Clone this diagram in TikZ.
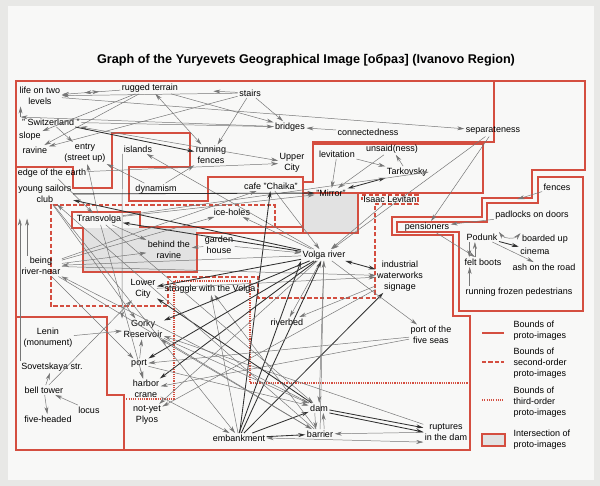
\documentclass[tikz,border=0pt]{standalone}
\usepackage{fontspec}
\setmainfont{Liberation Sans}
\usepackage{xcolor}
\usepackage{tikz}
\usetikzlibrary{arrows.meta}
\definecolor{bound}{RGB}{212,78,64}
\definecolor{linkgray}{RGB}{118,118,118}
\definecolor{heavygray}{RGB}{48,48,48}
\definecolor{overlap}{RGB}{226,226,226}
\definecolor{paper}{RGB}{248,248,247}
\definecolor{rim}{RGB}{232,232,230}

\begin{document}
\begin{tikzpicture}[x=0.025cm,y=-0.025cm,
                    >={Stealth[length=5pt,width=2.8pt]},
                    lbl/.style={font=\fontsize{6.4}{7.8}\selectfont,align=center,inner sep=1pt},
                    legtext/.style={lbl,align=left,anchor=west},
                    link/.style={->,draw=linkgray,line width=0.35pt},
                    heavy/.style={->,draw=heavygray,line width=0.6pt},
                    bnd/.style={draw=bound,line width=1.1pt},
                    bnd2/.style={bnd,dash pattern=on 3pt off 1.6pt},
                    bnd3/.style={bnd,line width=1pt,dash pattern=on 0.8pt off 0.8pt}]
                    \useasboundingbox (0,0) rectangle (600,486);
                    \fill[rim] (0,0) rectangle (600,486);
                    \fill[paper] (8,6) rectangle (594,480);

                    \fill[overlap] (83,228) rectangle (197,272);
                    \fill[overlap] (303,193) rectangle (358,233);

                    \draw[bnd] (16,81) -- (585,81) -- (585,170) -- (532,170) -- (532,198) -- (482,198) -- (482,217) -- (392,217) -- (392,235) -- (453,235) -- (453,316) -- (470,316) -- (470,450) -- (16,450) -- cycle;
                    \draw[bnd] (538,177) -- (583,177) -- (583,311) -- (459,311) -- (459,232) -- (397,232) -- (397,222) -- (487,222) -- (487,203) -- (538,203) -- cycle;
                    \draw[bnd] (494,81) -- (494,142) -- (313,142) -- (313,182) -- (303,182) -- (303,177) -- (208,177) -- (208,201) -- (129,201) -- (129,167) -- (190,167) -- (190,133) -- (112,133) -- (112,188) -- (73,188) -- (73,167) -- (16,167);
                    \draw[bnd] (313,144) -- (483,144) -- (483,193) -- (303,193);
                    \draw[bnd] (303,177) -- (303,233);
                    \draw[bnd] (303,227) -- (140,227) -- (140,212) -- (72,212) -- (72,228) -- (83,228) -- (83,272) -- (197,272) -- (197,233) -- (358,233) -- (358,193);
                    \draw[bnd] (16,317) -- (107,317) -- (107,395) -- (124,395) -- (124,450);
                    \draw[bnd2] (275,227) -- (275,205) -- (51,205) -- (51,306) -- (168,306) -- (168,277) -- (258,277) -- (258,298) -- (375,298) -- (375,204) -- (418,204) -- (418,195) -- (362,195) -- (362,200);
                    \draw[bnd3] (124,399) -- (174,399) -- (174,281) -- (250,281) -- (250,383) -- (470,383);

                    \node[font=\bfseries\fontsize{9}{11}\selectfont] (title) at (306,60) {Graph of the Yuryevets Geographical Image [образ] (Ivanovo Region)};

                    \node[lbl] (lifeon) at (40,96) {life on two\\levels};
                    \node[lbl] (rugged) at (150,88) {rugged terrain};
                    \node[lbl] (stairs) at (250,93) {stairs};
                    \node[lbl] (switz) at (51,122) {" Switzerland "};
                    \node[lbl] (slope) at (30,136) {slope};
                    \node[lbl] (ravine) at (35,150) {ravine};
                    \node[lbl] (entry) at (85,153) {entry\\(street up)};
                    \node[lbl] (islands) at (138,149) {islands};
                    \node[lbl] (runfences) at (211,155) {running\\fences};
                    \node[lbl] (bridges) at (290,127) {bridges};
                    \node[lbl] (connect) at (368,132) {connectedness};
                    \node[lbl] (separate) at (493,131) {separateness};
                    \node[lbl] (upper) at (292,163) {Upper\\City};
                    \node[lbl] (levit) at (337,154) {levitation};
                    \node[lbl] (unsaid) at (392,149) {unsaid(ness)};
                    \node[lbl] (tark) at (407,172) {Tarkovsky};
                    \node[lbl] (mirror) at (331,193) {"Mirror"};
                    \node[lbl] (edge) at (52,173) {edge of the earth};
                    \node[lbl] (dyn) at (156,189) {dynamism};
                    \node[lbl] (cafe) at (271,186) {cafe "Chaika"};
                    \node[lbl] (club) at (45,194) {young sailors\\club};
                    \node[lbl] (levitan) at (390,199) {Isaac Levitan};
                    \node[lbl] (fences) at (557,187) {fences};
                    \node[lbl] (transv) at (99,219) {Transvolga};
                    \node[lbl] (ice) at (232,212) {ice-holes};
                    \node[lbl] (behind) at (169,250) {behind the\\ravine};
                    \node[lbl] (garden) at (219,245) {garden\\house};
                    \node[lbl] (volga) at (324,255) {Volga river};
                    \node[lbl] (being) at (41,266) {being\\river-near};
                    \node[lbl] (lower) at (143,289) {Lower\\City};
                    \node[lbl] (struggle) at (210,289) {struggle with the Volga};
                    \node[lbl] (indust) at (400,276) {industrial\\waterworks\\signage};
                    \node[lbl] (pension) at (427,227) {pensioners};
                    \node[lbl] (padlock) at (532,215) {padlocks on doors};
                    \node[lbl] (podunk) at (482,237) {Podunk};
                    \node[lbl] (boarded) at (545,239) {boarded up};
                    \node[lbl] (cinema) at (535,251) {cinema};
                    \node[lbl] (felt) at (483,262) {felt boots};
                    \node[lbl] (ash) at (544,267) {ash on the road};
                    \node[lbl] (frozen) at (519,292) {running frozen pedestrians};
                    \node[lbl] (gorky) at (143,329) {Gorky\\Reservoir};
                    \node[lbl] (riverbed) at (287,322) {riverbed};
                    \node[lbl] (lenin) at (48,338) {Lenin\\(monument)};
                    \node[lbl] (port) at (139,364) {port};
                    \node[lbl] (fiveseas) at (431,335) {port of the\\five seas};
                    \node[lbl] (sovet) at (52,367) {Sovetskaya str.};
                    \node[lbl] (harbor) at (146,389) {harbor\\crane};
                    \node[lbl] (bell) at (44,390) {bell tower};
                    \node[lbl] (locus) at (89,410) {locus};
                    \node[lbl] (plyos) at (147,415) {not-yet\\Plyos};
                    \node[lbl] (five) at (48,419) {five-headed};
                    \node[lbl] (dam) at (319,408) {dam};
                    \node[lbl] (barrier) at (320,434) {barrier};
                    \node[lbl] (ruptures) at (446,432) {ruptures\\in the dam};
                    \node[lbl] (emb) at (239,438) {embankment};

                    \draw[link,shorten >=24pt] (stairs) -- (rugged);
                    \draw[link] (rugged) -- (lifeon);
                    \draw[link] (stairs) -- (lifeon);
                    \draw[link,<->,shorten <=16pt,shorten >=15pt] (lifeon) -- (rugged);
                    \draw[link] (bridges) -- (switz.north west);
                    \draw[link,<->] (switz) -- (upper);
                    \draw[link] (switz) -- (bridges);
                    \draw[link] (lifeon) -- (separate);
                    \draw[link] (rugged) -- (slope);
                    \draw[link] (rugged) -- (ravine);
                    \draw[link] (stairs) -- (ravine);
                    \draw[link] (rugged) -- (bridges);
                    \draw[link] (stairs) -- (bridges);
                    \draw[link] (stairs) -- (runfences);
                    \draw[link,<->] (rugged) -- (runfences);
                    \draw[link] (connect) -- (bridges);
                    \draw[link] (switz) -- (entry);
                    \draw[heavy] (switz) -- (runfences);
                    \draw[link] (switz.north west) -- (switz.north west |- lifeon.south);
                    \draw[link] (dyn) -- (entry);
                    \draw[link] (transv) -- (entry);
                    \draw[link] (islands.south west) -- (gorky.north west);
                    \draw[link] (volga) -- (islands);
                    \draw[link] (dyn) -- (runfences);
                    \draw[link] (edge) -- (upper);
                    \draw[link] (edge) -- (transv);

                    \draw[link] (levit) -- (mirror);
                    \draw[link] (tark) -- (unsaid);
                    \draw[link] (levit) -- (tark);
                    \draw[link] (unsaid) -- (mirror);
                    \draw[heavy,<->] (mirror) -- (tark);
                    \draw[link] (transv) -- (tark.east);
                    \draw[link] (separate) -- (pension);
                    \draw[link] (separate) -- (volga);
                    \draw[link,shorten >=53pt] (fences) -- (pension);
                    \draw[link] (padlock) -- (pension);
                    \draw[link] (pension) -- (felt);
                    \draw[link,<->] (podunk.north east) to[bend right=50] (boarded.north west);
                    \draw[heavy] (podunk) -- (cinema);
                    \draw[link] (podunk) -- (ash);
                    \draw[link] ([xshift=3pt]podunk.south west) -- ([xshift=3pt]podunk.south west |- felt.north);
                    \draw[link] ([xshift=7pt]podunk.south west |- felt.north) -- ([xshift=7pt]podunk.south west);
                    \draw[link] ([xshift=4pt]frozen.north west) -- ([xshift=4pt]frozen.north west |- felt.south);

                    \draw[link] (cafe) -- (volga);
                    \draw[heavy] (emb) -- (cafe);
                    \draw[heavy] (club) -- (mirror);
                    \draw[link] (transv) -- (mirror);
                    \draw[link] (volga) -- (ice);
                    \draw[link] (being) -- (ice);
                    \draw[link] (garden) -- (volga);
                    \draw[link] (garden) -- (behind);
                    \draw[link] (being) -- (behind);
                    \draw[link] (transv) -- (behind);
                    \draw[heavy] (volga) -- (transv);
                    \draw[heavy] (volga) -- (club);
                    \draw[link] (levitan) -- (volga);
                    \draw[heavy,<->] (volga) -- (indust);
                    \draw[link] (being) -- (indust);
                    \draw[link] (lower) -- (indust);
                    \draw[heavy] (emb) -- (indust);
                    \draw[link] (volga) -- (fiveseas);
                    \draw[link] (fiveseas) -- (harbor);
                    \draw[link] (volga) -- (dam);
                    \draw[heavy] (dam) -- (ruptures);
                    \draw[heavy] (dam.south east) -- (ruptures.west);
                    \draw[link] (ruptures) -- (barrier);
                    \draw[link,<->] (emb.east) -- (ruptures.south west);
                    \draw[link] ([xshift=-3pt]dam.south) -- ([xshift=-3pt]barrier.north);
                    \draw[link] ([xshift=3pt]barrier.north) -- ([xshift=3pt]dam.south);
                    \draw[heavy] (emb) -- (dam);
                    \draw[heavy] (emb) -- (barrier);
                    \draw[heavy] (emb) -- (volga);
                    \draw[heavy] (emb.north) -- (volga.south west);
                    \draw[link] (barrier) -- (volga);
                    \draw[link] (club) -- (emb);
                    \draw[link] (volga) -- (riverbed);
                    \draw[link] (indust) -- (riverbed);
                    \draw[heavy] (volga) -- (lower);
                    \draw[link] (emb) -- (struggle);
                    \draw[link] (barrier) -- (struggle);
                    \draw[heavy] (volga) -- (gorky);
                    \draw[link] (barrier) -- (gorky);
                    \draw[link] (ruptures) -- (gorky);
                    \draw[heavy] (volga) -- (port);
                    \draw[link] (fiveseas) -- (port);
                    \draw[heavy] (volga) -- (harbor);
                    \draw[link] (port) -- (gorky);
                    \draw[link] (port) -- (harbor);
                    \draw[link] (volga) -- (plyos);
                    \draw[link] (indust) -- (plyos);
                    \draw[link] (club) -- (gorky);
                    \draw[link] (being) -- (port);
                    \draw[link] (transv) -- (harbor);
                    \draw[link] (lenin) -- (gorky);
                    \draw[link] (bell) -- (lower);
                    \draw[link] (bell) -- (sovet);
                    \draw[link] (bell) -- (five);
                    \draw[link] (locus) -- (bell);
                    \draw[link,shorten >=10pt] (sovet.north west) -- (sovet.north west |- club.south);
                    \draw[link,shorten >=10pt] ([xshift=5pt]being.north west) -- ([xshift=5pt]being.north west |- club.south);
                    \draw[heavy] (dam) -- (lower);
                    \draw[link] (volga) -- (being);
                    \draw[link] (barrier) -- (club);
                    \draw[link] (dam) -- (being);
                    \draw[link] (being) -- (barrier);
                    \draw[link] (transv) -- (dam);
                    \draw[link] (gorky) -- (dam);
                    \draw[link] (port) -- (dam);
                    \draw[link] (harbor) -- (emb);
                    \draw[link] (being) -- (cafe);

                    \coordinate (s1) at (482,333);
                    \coordinate (s2) at (504,333);
                    \coordinate (d1) at (482,362);
                    \coordinate (d2) at (504,362);
                    \coordinate (t1) at (482,400);
                    \coordinate (t2) at (504,400);
                    \draw[bnd] (s1) -- (s2);
                    \draw[bnd2] (d1) -- (d2);
                    \draw[bnd3] (t1) -- (t2);
                    \draw[bnd,fill=overlap] (482,434) rectangle (505,446);
                    \node[legtext] (leg1) at (512,331) {Bounds of\\proto-images};
                    \node[legtext] (leg2) at (512,363) {Bounds of\\second-order\\proto-images};
                    \node[legtext] (leg3) at (512,402) {Bounds of\\third-order\\proto-images};
                    \node[legtext] (leg4) at (512,440) {Intersection of\\proto-images};
                \end{tikzpicture}
\end{document}
